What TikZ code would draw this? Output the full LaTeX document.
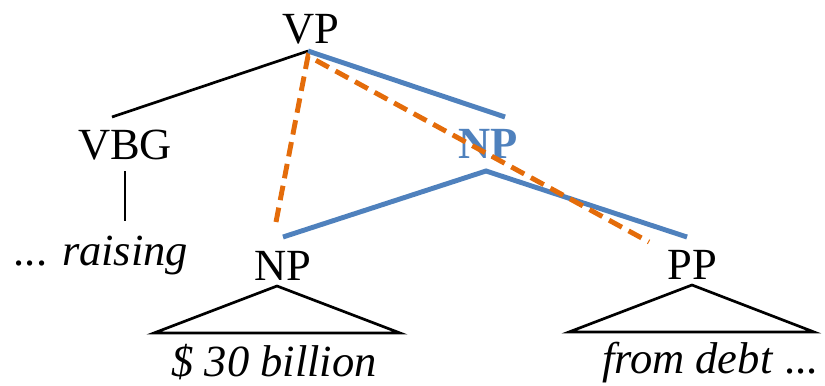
\documentclass[tikz,border=0pt]{standalone}
\usepackage{fontspec}
\setmainfont{Liberation Serif}
\usepackage{tikz}
\usetikzlibrary{calc}

\definecolor{treeblue}{RGB}{79,129,189}
\definecolor{treeorange}{RGB}{228,108,10}

\tikzset{
    label/.style={anchor=base, inner sep=0pt, font=\fontsize{38}{40}\selectfont},
    edge/.style={line width=2.3pt},
    blueedge/.style={line width=4.2pt, treeblue},
    pathedge/.style={line width=4.2pt, treeorange, dash pattern=on 12.5pt off 6.5pt}
}

\begin{document}
\begin{tikzpicture}[x=0.03cm, y=-0.03cm]
\useasboundingbox (0,0) rectangle (825,385);

% Labels
\node[label] (vp) at (311,43) {VP};
\node[label] (vbg) at (125,159) {VBG};
\node[label] (raising) at (101,265) {... \textit{raising}};
\node[label] (npl) at (283,280) {NP};
\node[label, text=treeblue, font=\fontsize{38}{40}\selectfont\bfseries] (npb) at (488,158) {NP};
\node[label] (pp) at (692,279) {PP};
\node[label] (billion) at (274,376) {\textit{\$ 30 billion}};
\node[label] (debt) at (710,373) {\textit{from debt} ...};

% Attachment points
\coordinate (vp-foot) at ($(vp.base)+(-3,8)$);
\coordinate (vbg-top) at ($(vbg.base)+(-13,-42)$);
\coordinate (vbg-foot) at ($(vbg.base)+(0,12)$);
\coordinate (raising-top) at ($(raising.base)+(24,-44)$);
\coordinate (npl-top) at ($(npl.base)+(0,-43)$);
\coordinate (npl-end) at ($(npl.base)+(-7,-58)$);
\coordinate (npl-foot) at ($(npl.base)+(-6,6)$);
\coordinate (npb-top) at ($(npb.base)+(17,-41)$);
\coordinate (npb-foot) at ($(npb.base)+(-2,13)$);
\coordinate (pp-top) at ($(pp.base)+(-5,-42)$);
\coordinate (pp-end) at ($(pp.base)+(-43,-37)$);
\coordinate (pp-foot) at ($(pp.base)+(0,6)$);

% Black edges
\draw[edge] (vp-foot) -- (vbg-top);
\draw[edge] (vbg-foot) -- (raising-top);

% Triangles
\draw[edge] (npl-foot) -- ($(npl-foot)+(-123,47)$) -- ($(npl-foot)+(123,47)$) -- cycle;
\draw[edge] (pp-foot) -- ($(pp-foot)+(-123,47)$) -- ($(pp-foot)+(122,47)$) -- cycle;

% Blue edges
\draw[blueedge] (vp-foot) -- (npb-top);
\draw[blueedge] (npl-top) -- (npb-foot) -- (pp-top);

% Orange path
\draw[pathedge] (npl-end) -- ($(vp-foot)+(0,5)$) -- (pp-end);
\end{tikzpicture}
\end{document}
